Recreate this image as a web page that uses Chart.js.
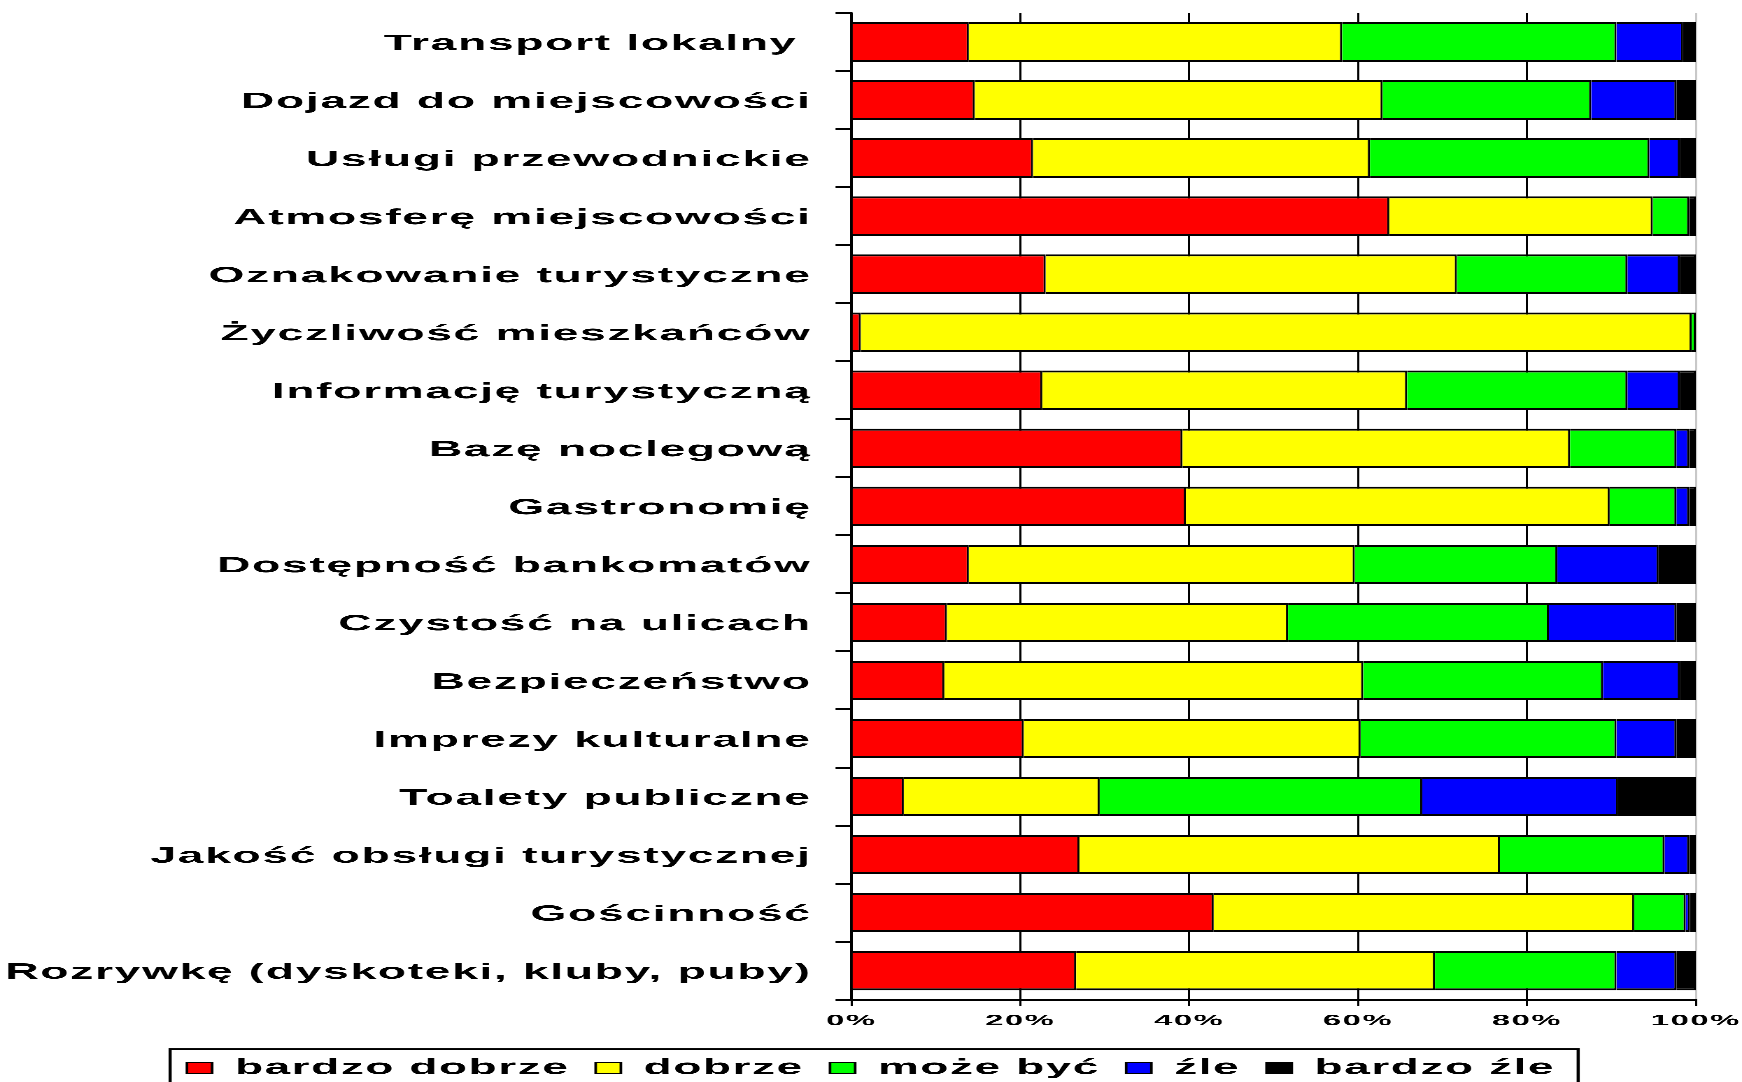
<!DOCTYPE html>
<html>
<head>
<meta charset="utf-8">
<script src="https://cdn.jsdelivr.net/npm/chart.js@4.4.1/dist/chart.umd.min.js"></script>
<style>
  html, body { margin: 0; padding: 0; background: #fff; overflow: hidden; }
  /* the original picture is stretched sideways, so the canvas is too */
  #wrap { width: 830px; height: 1082px; transform: scaleX(2.0988); transform-origin: 0 0; }
</style>
</head>
<body>
<div id="wrap"><canvas id="chart" width="830" height="1082"></canvas></div>
<script>
const categories = [
  'Transport lokalny ', 'Dojazd do miejscowości', 'Usługi przewodnickie',
  'Atmosferę miejscowości', 'Oznakowanie turystyczne', 'Życzliwość mieszkańców',
  'Informację turystyczną', 'Bazę noclegową', 'Gastronomię',
  'Dostępność bankomatów', 'Czystość na ulicach', 'Bezpieczeństwo',
  'Imprezy kulturalne', 'Toalety publiczne', 'Jakość obsługi turystycznej',
  'Gościnność', 'Rozrywkę (dyskoteki, kluby, puby)'
];
const seriesNames = ['bardzo dobrze', 'dobrze', 'może być', 'źle', 'bardzo źle'];
const bardzoDobrze = [13.9, 14.6, 21.5, 63.7, 23.0, 1.1, 22.6, 39.2, 39.6, 13.9, 11.3, 11.0, 20.4, 6.2, 27.0, 42.9, 26.6];
const dobrze       = [44.2, 48.3, 39.9, 31.2, 48.7, 98.4, 43.2, 45.9, 50.2, 45.7, 40.4, 49.6, 39.9, 23.2, 49.8, 49.8, 42.5];
const mozeByc      = [32.5, 24.7, 33.1, 4.3, 20.2, 0.5, 26.1, 12.6, 7.9, 24.0, 30.9, 28.4, 30.3, 38.2, 19.5, 6.1, 21.5];
const zle          = [7.9, 10.1, 3.6, 0, 6.2, 0, 6.2, 1.5, 1.5, 12.0, 15.1, 9.1, 7.1, 23.2, 2.9, 0.5, 7.1];
const bardzoZle    = [1.5, 2.3, 1.9, 0.8, 1.9, 0, 1.9, 0.8, 0.8, 4.4, 2.3, 1.9, 2.3, 9.2, 0.8, 0.7, 2.3];
const xTicks = [0, 20, 40, 60, 80, 100];

const colors = ['#FF0000', '#FFFF00', '#00FF00', '#0000FF', '#000000'];
const values = [bardzoDobrze, dobrze, mozeByc, zle, bardzoZle];
const FONT = "'Liberation Sans', Arial, sans-serif";

// the text in the picture is spaced out a little
const spacing = {
  id: 'spacing',
  beforeUpdate(chart) { chart.ctx.letterSpacing = '0.8px'; },
  beforeLayout(chart) { chart.ctx.letterSpacing = '0.8px'; },
  beforeDraw(chart) { chart.ctx.letterSpacing = '0.8px'; }
};

// frame round the legend, open at the bottom of the picture
const legendFrame = {
  id: 'legendFrame',
  afterDraw(chart) {
    const boxes = chart.legend.legendHitBoxes;
    if (!boxes || !boxes.length) return;
    const first = boxes[0], last = boxes[boxes.length - 1];
    const x0 = first.left - 8;
    const x1 = last.left + last.width + 11;
    const y0 = first.top + first.height / 2 - 19;
    const ctx = chart.ctx;
    ctx.save();
    ctx.strokeStyle = '#000';
    ctx.lineWidth = 1.5;
    ctx.strokeRect(x0, y0, x1 - x0, chart.height - y0 + 10);
    ctx.restore();
  }
};

new Chart(document.getElementById('chart'), {
  type: 'bar',
  data: {
    labels: categories,
    datasets: seriesNames.map((name, i) => ({
      label: name,
      data: values[i],
      backgroundColor: colors[i],
      borderColor: '#000',
      borderWidth: { top: 2, bottom: 2, right: 1, left: 0 },
      barPercentage: 0.68,
      categoryPercentage: 1
    }))
  },
  options: {
    indexAxis: 'y',
    responsive: false,
    animation: false,
    devicePixelRatio: 3,
    layout: { padding: { top: 13, left: 0, right: 0, bottom: -7 } },
    scales: {
      x: {
        stacked: true,
        min: 0, max: 100,
        afterBuildTicks(scale) { scale.ticks = xTicks.map(v => ({ value: v })); },
        afterFit(scale) {
          scale.height = 45;
          scale.paddingLeft = 0;
          scale.paddingRight = 22;
        },
        ticks: {
          callback: v => v + '%',
          color: '#000',
          padding: 6,
          maxRotation: 0,
          font: { family: FONT, size: 15.5, weight: 'bold' }
        },
        grid: {
          color: ctx => (ctx.tick && ctx.tick.value === 100 ? '#c8c8c8' : '#000'),
          lineWidth: 1,
          tickColor: '#000',
          tickLength: 6,
          tickWidth: 1
        },
        border: { color: '#000', width: 2 }
      },
      y: {
        stacked: true,
        afterFit(scale) {
          scale.width = 405.7;
          scale.paddingTop = 0;
          scale.paddingBottom = 0;
        },
        ticks: {
          color: '#000',
          padding: 11.4,
          labelOffset: 2,
          autoSkip: false,
          font: { family: FONT, size: 22, weight: 'bold' }
        },
        grid: {
          offset: true,
          drawOnChartArea: false,
          drawTicks: true,
          tickLength: 7.6,
          color: '#000',
          lineWidth: 2
        },
        border: { color: '#000', width: 1.2 }
      }
    },
    plugins: {
      legend: {
        position: 'bottom',
        labels: {
          color: '#000',
          boxWidth: 12,
          boxHeight: 11,
          padding: 12.5,
          font: { family: FONT, size: 21.8, weight: 'bold' }
        }
      },
      tooltip: { enabled: false }
    }
  },
  plugins: [spacing, legendFrame]
});
</script>
</body>
</html>
